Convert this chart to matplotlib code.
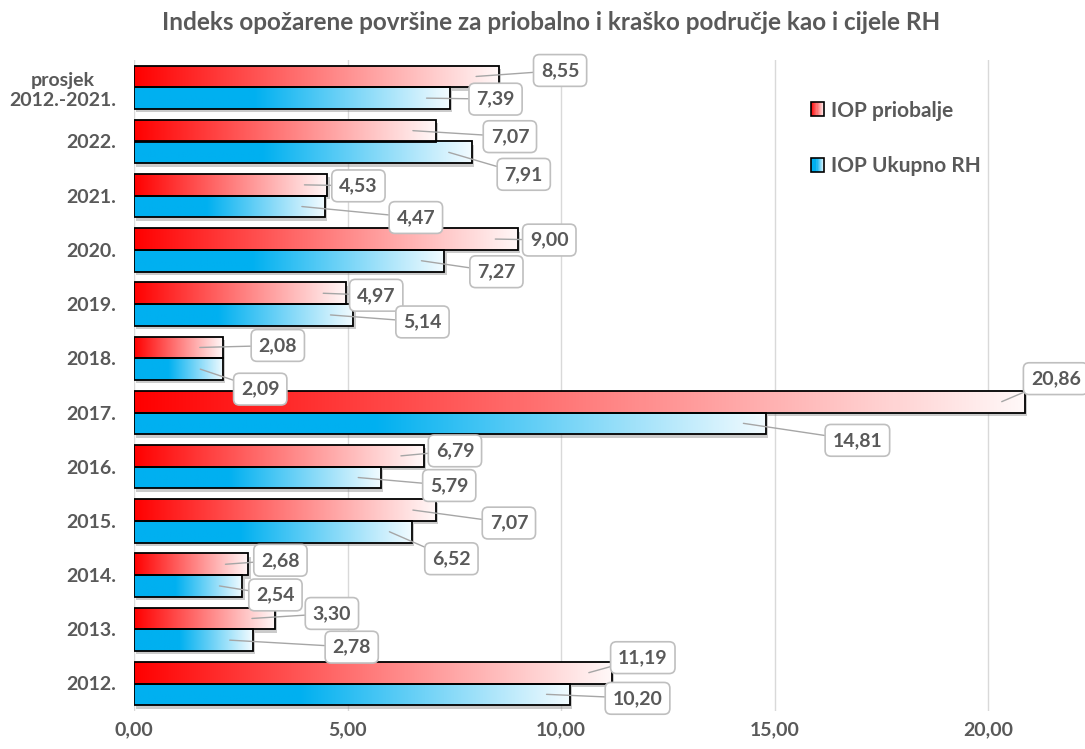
import matplotlib.pyplot as plt
import numpy as np
from matplotlib.colors import LinearSegmentedColormap
from matplotlib.patches import Rectangle, Patch
from matplotlib.legend_handler import HandlerBase
import matplotlib.patheffects as pe

plt.rcParams['font.family'] = ['Lato', 'DejaVu Sans']

# podaci (odozgo prema dolje)
kategorije = ['prosjek\n2012.-2021.', '2022.', '2021.', '2020.', '2019.', '2018.',
              '2017.', '2016.', '2015.', '2014.', '2013.', '2012.']
iop_priobalje = [8.55, 7.07, 4.53, 9.00, 4.97, 2.08, 20.86, 6.79, 7.07, 2.68, 3.30, 11.19]
iop_ukupno = [7.39, 7.91, 4.47, 7.27, 5.14, 2.09, 14.81, 5.79, 6.52, 2.54, 2.78, 10.20]

# pomak oznaka od kraja stupca (pikseli: dx desno, dy dolje)
pomak_crveni = [(61, -6), (74, 6), (31, 1), (31, 1), (30, 2), (55, -2),
                (31, -23), (31, -5), (73, 13), (32, -4), (57, -5), (31, -15)]
pomak_plavi = [(46, 1), (52, 22), (91, 11), (52, 11), (69, 7), (37, 20),
               (91, 17), (68, 8), (39, 27), (33, 9), (99, 7), (68, 4)]

siva = '#595959'
crvena_cmap = LinearSegmentedColormap.from_list('cr', ['#FF0000', '#FFF8F8'])
plava_cmap = LinearSegmentedColormap.from_list('pl', [(0, '#00B0F0'), (0.38, '#00B0F0'), (1, '#F2FBFF')])

W, H = 1085, 749
px_x = 42.7   # pikseli po jedinici x
px_y = 54.2   # pikseli po kategoriji
lijevo, dno = 134, 710.6

fig = plt.figure(figsize=(W / 100, H / 100), dpi=100)
ax = fig.add_axes([lijevo / W, 1 - dno / H, (W - lijevo) / W, 12 * px_y / H])
xmax = (W - lijevo) / px_x

n = len(kategorije)
pos = np.arange(n)[::-1]
h = 0.4
grad = np.linspace(0, 1, 256).reshape(1, -1)

def crtaj(vrijednosti, yoff, cmap, pomaci):
    ys = pos + yoff
    baze = ax.barh(ys, vrijednosti, height=h, color='white', edgecolor='none', zorder=1,
                   path_effects=[pe.SimplePatchShadow(offset=(1.5, -2.5), shadow_rgbFace='#8c8c8c', alpha=0.45),
                                 pe.Normal()])
    for rect, v, y in zip(baze, vrijednosti, ys):
        im = ax.imshow(grad, extent=[0, v, y - h/2, y + h/2], aspect='auto', cmap=cmap, zorder=2)
        im.set_clip_path(rect)
    ax.barh(ys, vrijednosti, height=h, facecolor='none', edgecolor='black', lw=1.3, zorder=3)
    for v, y, (dx, dy) in zip(vrijednosti, ys, pomaci):
        ax.annotate(f'{v:.2f}'.replace('.', ','), xy=(v - 23 / px_x, y),
                    xytext=(v + dx / px_x, y - dy / px_y), textcoords='data',
                    ha='center', va='center', fontsize=14, fontweight='bold', color=siva,
                    bbox=dict(boxstyle='round,pad=0.38,rounding_size=0.3', fc='white', ec='#BFBFBF', lw=1.2),
                    arrowprops=dict(arrowstyle='-', color='#A6A6A6', lw=1, shrinkA=0, shrinkB=0),
                    zorder=5)

crtaj(iop_priobalje, 0.2, crvena_cmap, pomak_crveni)
crtaj(iop_ukupno, -0.2, plava_cmap, pomak_plavi)

ax.set_xlim(0, xmax)
ax.set_ylim(-0.5, n - 0.5)
ax.set_xticks([0, 5, 10, 15, 20])
ax.set_xticklabels(['0,00', '5,00', '10,00', '15,00', '20,00'])
ax.set_yticks(pos)
ax.set_yticklabels(kategorije)
for t in ax.get_yticklabels():
    t.set_multialignment('center')
ax.tick_params(length=0, labelsize=14, labelcolor=siva)
ax.tick_params(axis='y', pad=13)
ax.tick_params(axis='x', pad=8)
for t in ax.get_xticklabels() + ax.get_yticklabels():
    t.set_fontweight('bold')
for s in ax.spines.values():
    s.set_visible(False)
ax.set_axisbelow(True)
ax.xaxis.grid(True, color='#D9D9D9', lw=1)

# legenda s gradijentom
class GradHandler(HandlerBase):
    def __init__(self, cmap):
        super().__init__()
        self.cmap = cmap

    def create_artists(self, legend, orig_handle, xdescent, ydescent, width, height, fontsize, trans):
        arts = []
        k = 12
        for i in range(k):
            arts.append(Rectangle((-xdescent + width * i / k, -ydescent), width / k, height,
                                  facecolor=self.cmap((i + 0.5) / k), edgecolor='none', transform=trans))
        arts.append(Rectangle((-xdescent, -ydescent), width, height, facecolor='none',
                              edgecolor='black', lw=1.2, transform=trans))
        return arts

h1 = Patch(label='IOP priobalje')
h2 = Patch(label='IOP Ukupno RH')
leg = fig.legend(handles=[h1, h2], handler_map={h1: GradHandler(crvena_cmap), h2: GradHandler(plava_cmap)},
                 loc='upper left', bbox_to_anchor=(792 / W, 1 - 82 / H), frameon=False,
                 handlelength=0.65, handleheight=0.65, handletextpad=0.3, labelspacing=1.7,
                 prop={'size': 15, 'weight': 'bold'})
for t in leg.get_texts():
    t.set_color(siva)

fig.text(551 / W, 1 - 22 / H, 'Indeks opožarene površine za priobalno i kraško područje kao i cijele RH',
         ha='center', va='center', fontsize=17.5, fontweight='bold', color=siva)

fig.savefig('out.png', dpi=100)
